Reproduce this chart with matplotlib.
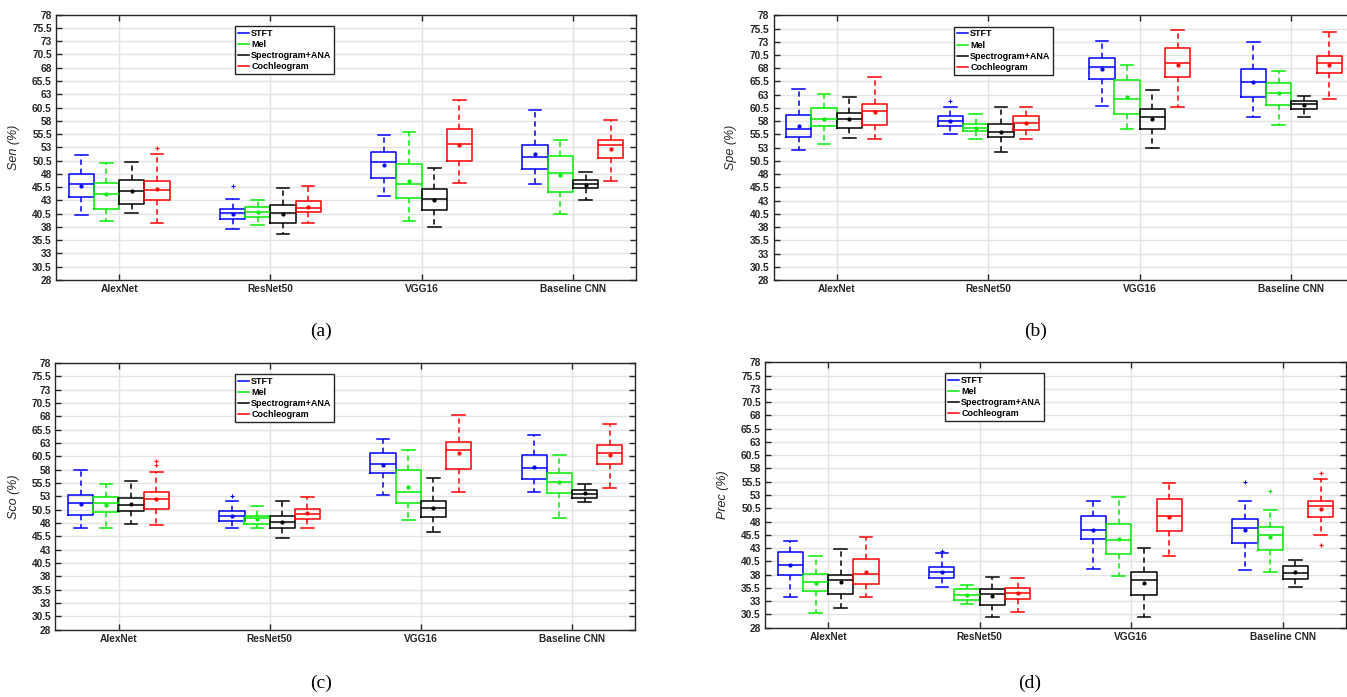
import matplotlib
matplotlib.use("Agg")
import matplotlib.pyplot as plt
from matplotlib.lines import Line2D

plt.rcParams['font.family'] = ['Liberation Sans', 'DejaVu Sans']

models = ["AlexNet", "ResNet50", "VGG16", "Baseline CNN"]
methods = ["STFT", "Mel", "Spectrogram+ANA", "Cochleogram"]
colors = ["#0000ff", "#00ee00", "#000000", "#ff0000"]
offsets = [-0.25, -0.0833, 0.0833, 0.25]

# each entry: (lower whisker, q1, median, q3, upper whisker, mean) per model
sen = [
    [(40.2, 43.7, 46.0, 47.9, 51.5, 45.8), (37.7, 39.5, 40.6, 41.4, 43.2, 40.5),
     (43.8, 47.2, 50.2, 52.2, 55.3, 49.7), (46.0, 49.0, 51.1, 53.4, 60.0, 51.7)],
    [(39.1, 41.4, 44.2, 46.2, 50.0, 44.2), (38.4, 39.9, 40.8, 41.7, 43.0, 40.8),
     (39.2, 43.4, 46.0, 49.9, 55.9, 46.7), (40.4, 44.5, 48.2, 51.3, 54.3, 47.8)],
    [(40.6, 42.4, 44.7, 46.8, 50.2, 44.8), (36.7, 38.7, 40.6, 42.1, 45.4, 40.4),
     (37.9, 41.2, 43.2, 45.1, 49.2, 43.1), (43.1, 45.3, 46.0, 46.8, 48.4, 45.9)],
    [(38.8, 43.0, 44.9, 46.7, 51.8, 45.1), (38.7, 40.8, 41.6, 42.8, 45.8, 41.8),
     (46.3, 50.5, 53.7, 56.4, 62.0, 53.4), (46.6, 50.9, 53.4, 54.3, 58.2, 52.7)],
]
sen_out = [[[], [45.8], [], []], [[], [], [], []], [[], [], [], []], [[52.9], [], [], []]]

spe = [
    [(52.6, 55.1, 56.5, 59.1, 64.1, 57.1), (55.5, 57.0, 58.0, 58.9, 60.7, 58.0),
     (60.8, 66.0, 68.2, 69.9, 73.2, 67.9), (58.7, 62.5, 65.4, 67.8, 73.0, 65.4)],
    [(53.7, 57.0, 58.4, 60.4, 63.2, 58.4), (54.7, 56.1, 56.7, 57.5, 59.4, 56.8),
     (56.5, 59.3, 62.1, 65.7, 68.7, 62.5), (57.3, 61.1, 63.3, 65.3, 67.5, 63.3)],
    [(54.8, 56.8, 58.4, 59.5, 62.6, 58.4), (52.1, 55.0, 56.0, 57.5, 60.6, 56.0),
     (53.0, 56.5, 58.7, 60.3, 63.8, 58.5), (58.7, 60.3, 61.2, 61.8, 62.8, 61.1)],
    [(54.6, 57.3, 59.9, 61.2, 66.4, 59.7), (54.6, 56.3, 57.7, 58.9, 60.7, 57.7),
     (60.7, 66.3, 69.0, 71.8, 75.2, 68.7), (62.2, 67.1, 69.0, 70.4, 74.9, 68.7)],
]
spe_out = [[[], [61.9], [], []], [[], [], [], []], [[], [], [], []], [[], [], [], []]]

sco = [
    [(47.0, 49.5, 51.75, 53.2, 57.9, 51.5), (47.1, 48.3, 49.25, 50.2, 52.1, 49.3),
     (53.25, 57.3, 59.0, 61.2, 63.7, 58.9), (53.75, 56.2, 58.4, 60.8, 64.5, 58.5)],
    [(47.0, 50.0, 51.7, 52.9, 55.25, 51.4), (47.1, 47.9, 48.9, 49.4, 51.25, 48.8),
     (48.5, 51.7, 53.9, 58.0, 61.7, 54.7), (49.0, 53.6, 55.6, 57.3, 60.8, 55.6)],
    [(47.9, 50.25, 51.4, 52.6, 55.9, 51.6), (45.1, 47.1, 48.1, 49.4, 52.1, 48.25),
     (46.25, 49.2, 50.9, 52.2, 56.5, 50.9), (51.9, 52.7, 53.5, 54.1, 55.4, 53.6)],
    [(47.6, 50.7, 52.5, 53.9, 57.6, 52.5), (47.1, 48.75, 49.7, 50.7, 52.9, 49.8),
     (53.9, 58.1, 61.6, 63.1, 68.25, 61.1), (54.5, 59.1, 61.2, 62.6, 66.6, 60.8)],
]
sco_out = [[[], [53.1], [], []], [[], [], [], []], [[], [], [], []], [[58.9, 59.7], [], [], []]]

prec = [
    [(33.7, 38.0, 39.9, 42.3, 44.4, 39.9), (35.7, 37.4, 38.5, 39.4, 42.1, 38.5),
     (39.0, 44.8, 46.5, 49.0, 51.8, 46.5), (38.9, 43.9, 46.8, 48.4, 51.9, 46.4)],
    [(30.8, 34.85, 36.6, 38.2, 41.5, 36.5), (32.4, 33.2, 34.2, 35.2, 36.0, 34.2),
     (37.7, 41.8, 44.6, 47.5, 52.6, 44.8), (38.4, 42.6, 45.4, 47.0, 50.2, 45.0)],
    [(31.8, 34.3, 36.9, 38.0, 42.8, 36.6), (30.1, 32.3, 34.3, 35.35, 37.6, 34.0),
     (30.0, 34.2, 37.0, 38.55, 42.95, 36.5), (35.7, 37.2, 38.3, 39.6, 40.8, 38.4)],
    [(33.7, 36.2, 38.2, 40.9, 45.0, 38.55), (31.0, 33.5, 34.5, 35.4, 37.3, 34.5),
     (41.5, 46.2, 49.1, 52.3, 55.2, 48.9), (45.5, 48.85, 50.9, 51.9, 56.0, 50.4)],
]
prec_out = [[[], [42.5], [], [55.4]], [[], [], [], [53.8]], [[], [], [], []], [[], [], [], [57.2, 43.5]]]

yticks = [28 + 2.5 * i for i in range(21)]

W, H = 1347, 697


def px_axes(fig, left, right, top, bottom):
    return fig.add_axes([left / W, (H - bottom) / H, (right - left) / W, (bottom - top) / H])


def draw_panel(ax, data, outliers, ylabel, leg_box):
    for m, col in enumerate(colors):
        stats = []
        for k in range(len(models)):
            lo, q1, med, q3, hi, mean = data[m][k]
            stats.append(dict(whislo=lo, q1=q1, med=med, q3=q3, whishi=hi,
                              mean=mean, fliers=outliers[m][k]))
        pos = [k + 1 + offsets[m] for k in range(len(models))]
        ax.bxp(stats, positions=pos, widths=0.167, showmeans=True,
               manage_ticks=False,
               boxprops=dict(color=col, lw=1.1),
               medianprops=dict(color=col, lw=1.1),
               whiskerprops=dict(color=col, lw=1.1, linestyle=(0, (3.5, 2.5))),
               capprops=dict(color=col, lw=1.1),
               meanprops=dict(marker='.', markersize=4, markerfacecolor=col,
                              markeredgecolor=col),
               flierprops=dict(marker='+', markersize=2.5, markeredgecolor=col,
                               markeredgewidth=0.8))
    ax.set_xlim(0.583, 4.417)
    ax.set_ylim(28, 78)
    ax.set_yticks(yticks)
    ax.set_yticklabels(["%g" % t for t in yticks])
    ax.set_xticks(range(1, len(models) + 1))
    ax.set_xticklabels(models)
    ax.grid(True, color="#e3e3e3", lw=1.0)
    ax.set_axisbelow(True)
    ax.tick_params(direction='in', length=4, width=1, top=True, right=True,
                   labelsize=7.3, colors="#262626", pad=3)
    for lab in ax.get_xticklabels() + ax.get_yticklabels():
        lab.set_fontweight('bold')
    for s in ax.spines.values():
        s.set_color("#262626")
        s.set_linewidth(1.0)
    ax.set_ylabel(ylabel, fontsize=9, fontstyle='italic', color="#262626")
    ax.yaxis.set_label_coords(-0.062, 0.5)

    handles = [Line2D([], [], color=c, lw=1.1) for c in colors]
    x0, y0 = leg_box
    leg = ax.legend(handles, methods, loc='upper left',
                    bbox_to_anchor=(x0 / W, 1 - y0 / H),
                    bbox_transform=ax.figure.transFigure,
                    prop=dict(weight='bold', size=6.5),
                    handlelength=1.3, handletextpad=0.2, labelspacing=0.25,
                    borderpad=0.3, borderaxespad=0, fancybox=False,
                    framealpha=1, edgecolor="#262626")
    leg.get_frame().set_linewidth(1.0)


fig = plt.figure(figsize=(W / 100, H / 100), dpi=100)

ax_a = px_axes(fig, 56, 636, 14.7, 280)
draw_panel(ax_a, sen, sen_out, "Sen (%)", (235, 26))
ax_b = px_axes(fig, 773.5, 1354.5, 15.3, 280)
draw_panel(ax_b, spe, spe_out, "Spe (%)", (954, 26.7))
ax_c = px_axes(fig, 55.5, 635, 363, 629.7)
draw_panel(ax_c, sco, sco_out, "Sco (%)", (235, 374))
ax_d = px_axes(fig, 765, 1346, 362.3, 627.7)
draw_panel(ax_d, prec, prec_out, "Prec (%)", (945, 373))

for lab, x, y in [("(a)", 321, 331), ("(b)", 1036, 331), ("(c)", 321, 683), ("(d)", 1030, 683)]:
    fig.text(x / W, 1 - y / H, lab, ha='center', va='center', fontsize=14,
             family=['Liberation Serif', 'DejaVu Serif'])

fig.savefig("out.png", dpi=100)
